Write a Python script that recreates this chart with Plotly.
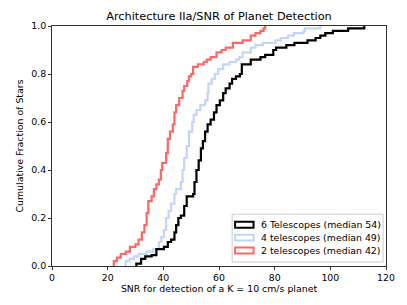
import plotly.graph_objects as go

# Step positions (SNR) and cumulative fraction reached at each step
snr_6tel = [30.3, 32.0, 33.5, 35.8, 37.5, 40.2, 41.6, 42.8, 44.0, 44.6, 45.4, 46.3, 47.5, 48.4,
            50.7, 51.2, 51.9, 52.7, 53.5, 54.2, 55.0, 55.9, 57.0, 58.2, 59.1, 60.3, 61.5, 62.4,
            63.8, 64.7, 66.1, 67.5, 68.2, 71.4, 74.9, 76.6, 79.5, 80.5, 84.2, 87.1, 91.8, 94.7,
            96.4, 98.2, 100.9, 106.4, 112.2]
frac_6tel = [0.01, 0.03, 0.04, 0.045, 0.07, 0.08, 0.10, 0.11, 0.14, 0.17, 0.20, 0.21, 0.25, 0.29,
             0.30, 0.35, 0.40, 0.44, 0.49, 0.52, 0.56, 0.59, 0.61, 0.64, 0.67, 0.69, 0.72, 0.74,
             0.76, 0.78, 0.79, 0.80, 0.84, 0.86, 0.87, 0.88, 0.90, 0.91, 0.92, 0.93, 0.94, 0.95,
             0.96, 0.97, 0.98, 0.99, 1.00]

snr_4tel = [26.5, 27.9, 29.4, 31.1, 34.0, 36.4, 38.4, 39.3, 40.2, 41.0, 41.9, 42.8, 44.0, 44.6,
            46.3, 46.9, 47.5, 48.4, 49.2, 50.4, 50.9, 51.9, 53.3, 55.0, 55.9, 56.2, 57.4, 58.5,
            59.7, 61.5, 63.8, 66.1, 67.3, 68.5, 71.4, 73.1, 75.7, 80.3, 82.2, 84.8, 86.9, 90.4,
            90.9, 96.4]
frac_4tel = [0.02, 0.03, 0.04, 0.05, 0.06, 0.07, 0.10, 0.12, 0.15, 0.20, 0.23, 0.26, 0.30, 0.32,
             0.35, 0.40, 0.45, 0.50, 0.56, 0.60, 0.63, 0.65, 0.67, 0.69, 0.72, 0.76, 0.78, 0.80,
             0.82, 0.84, 0.85, 0.86, 0.87, 0.89, 0.91, 0.92, 0.93, 0.94, 0.95, 0.96, 0.97, 0.98,
             0.99, 1.00]

snr_2tel = [22.2, 23.3, 24.7, 26.5, 28.0, 30.0, 31.1, 32.3, 33.2, 34.0, 34.6, 35.8, 36.6, 37.5,
            38.4, 39.1, 39.6, 41.0, 41.6, 42.4, 43.4, 44.0, 44.6, 45.7, 46.9, 47.5, 48.6, 49.2,
            50.0, 50.7, 52.4, 54.5, 55.6, 57.0, 59.1, 60.9, 62.4, 65.0, 68.5, 71.4, 73.1, 74.9,
            76.0, 76.6]
frac_2tel = [0.02, 0.035, 0.05, 0.06, 0.08, 0.09, 0.11, 0.14, 0.17, 0.22, 0.27, 0.29, 0.32, 0.34,
             0.36, 0.40, 0.43, 0.47, 0.53, 0.56, 0.59, 0.64, 0.67, 0.70, 0.73, 0.75, 0.77, 0.79,
             0.80, 0.83, 0.84, 0.85, 0.86, 0.87, 0.89, 0.90, 0.91, 0.93, 0.94, 0.96, 0.97, 0.98,
             0.99, 1.00]

labels = ["6 Telescopes (median 54)", "4 telescopes (median 49)", "2 telescopes (median 42)"]
colors = ["#000000", "#c2d5fa", "#ff6666"]

x_ticks = [0, 20, 40, 60, 80, 100, 120]
y_ticks = [0.0, 0.2, 0.4, 0.6, 0.8, 1.0]

FONT = "DejaVu Sans"
fig = go.Figure()

series = [(snr_6tel, frac_6tel), (snr_4tel, frac_4tel), (snr_2tel, frac_2tel)]
# draw back-to-front like the reference (red on top)
for (xs, fs), lab, col in reversed(list(zip(series, labels, colors))):
    fig.add_trace(go.Scatter(
        x=[xs[0]] + list(xs), y=[0.0] + list(fs),
        mode="lines", line=dict(color=col, width=2.2, shape="hv"),
        name=lab, showlegend=False, hoverinfo="skip"))

# the page body has an 8px margin: the figure is drawn 8px in from the top-left corner
OFF = 8
WIN_W, WIN_H = 407, 305
W, H = WIN_W - OFF, WIN_H - OFF
PL, PR, PT, PB = 44, 387, 25, 266          # plot area in window pixels
L, R, T, B = PL - OFF, WIN_W - PR, PT - OFF, WIN_H - PB
pw, ph = PR - PL, PB - PT

def px(x):
    return (x - PL) / pw

def py(y):
    return (PB - y) / ph

shapes = []
annotations = []
# legend frame
shapes.append(dict(type="rect", xref="paper", yref="paper",
                   x0=px(229), x1=px(384), y0=py(262), y1=py(214),
                   line=dict(color="#cccccc", width=1), fillcolor="rgba(255,255,255,0.8)"))
row_y = [224.5, 237.5, 250.5]
for lab, col, ry in zip(labels, colors, row_y):
    shapes.append(dict(type="rect", xref="paper", yref="paper",
                       x0=px(232), x1=px(251), y0=py(ry + 3), y1=py(ry - 3),
                       line=dict(color=col, width=2), fillcolor="rgba(0,0,0,0)"))
    annotations.append(dict(xref="paper", yref="paper", x=px(257), y=py(ry),
                            xanchor="left", yanchor="middle", text=lab, showarrow=False,
                            font=dict(family=FONT, size=9.4, color="#000000")))

fig.update_layout(
    width=W, height=H,
    margin=dict(l=L, r=R, t=T, b=B, pad=0),
    paper_bgcolor="white", plot_bgcolor="white",
    font=dict(family=FONT, size=9.4, color="#000000"),
    title=dict(text="Architecture IIa/SNR of Planet Detection", x=0.5, xref="paper",
               xanchor="center", y=1 - (15.7 - OFF) / H, yanchor="middle",
               font=dict(family=FONT, size=11.3, color="#000000")),
    xaxis=dict(range=[0, 120], tickvals=x_ticks, ticktext=[str(v) for v in x_ticks],
               showgrid=False, zeroline=False, showline=True, linecolor="#333333", linewidth=1,
               mirror=True, ticks="outside", ticklen=3, tickcolor="#333333",
               tickfont=dict(family=FONT, size=9.4),
               title=dict(text="SNR for detection of a K = 10 cm/s planet", standoff=3,
                          font=dict(family=FONT, size=9.4))),
    yaxis=dict(range=[0, 1.0], tickvals=y_ticks, ticktext=[f"{v:.1f}" for v in y_ticks],
               showgrid=False, zeroline=False, showline=True, linecolor="#333333", linewidth=1,
               mirror=True, ticks="outside", ticklen=3, tickcolor="#333333",
               tickfont=dict(family=FONT, size=9.4),
               title=dict(text="Cumulative Fraction of Stars", standoff=5,
                          font=dict(family=FONT, size=9.4))),
    shapes=shapes, annotations=annotations,
)

fig.write_html("out.html")
